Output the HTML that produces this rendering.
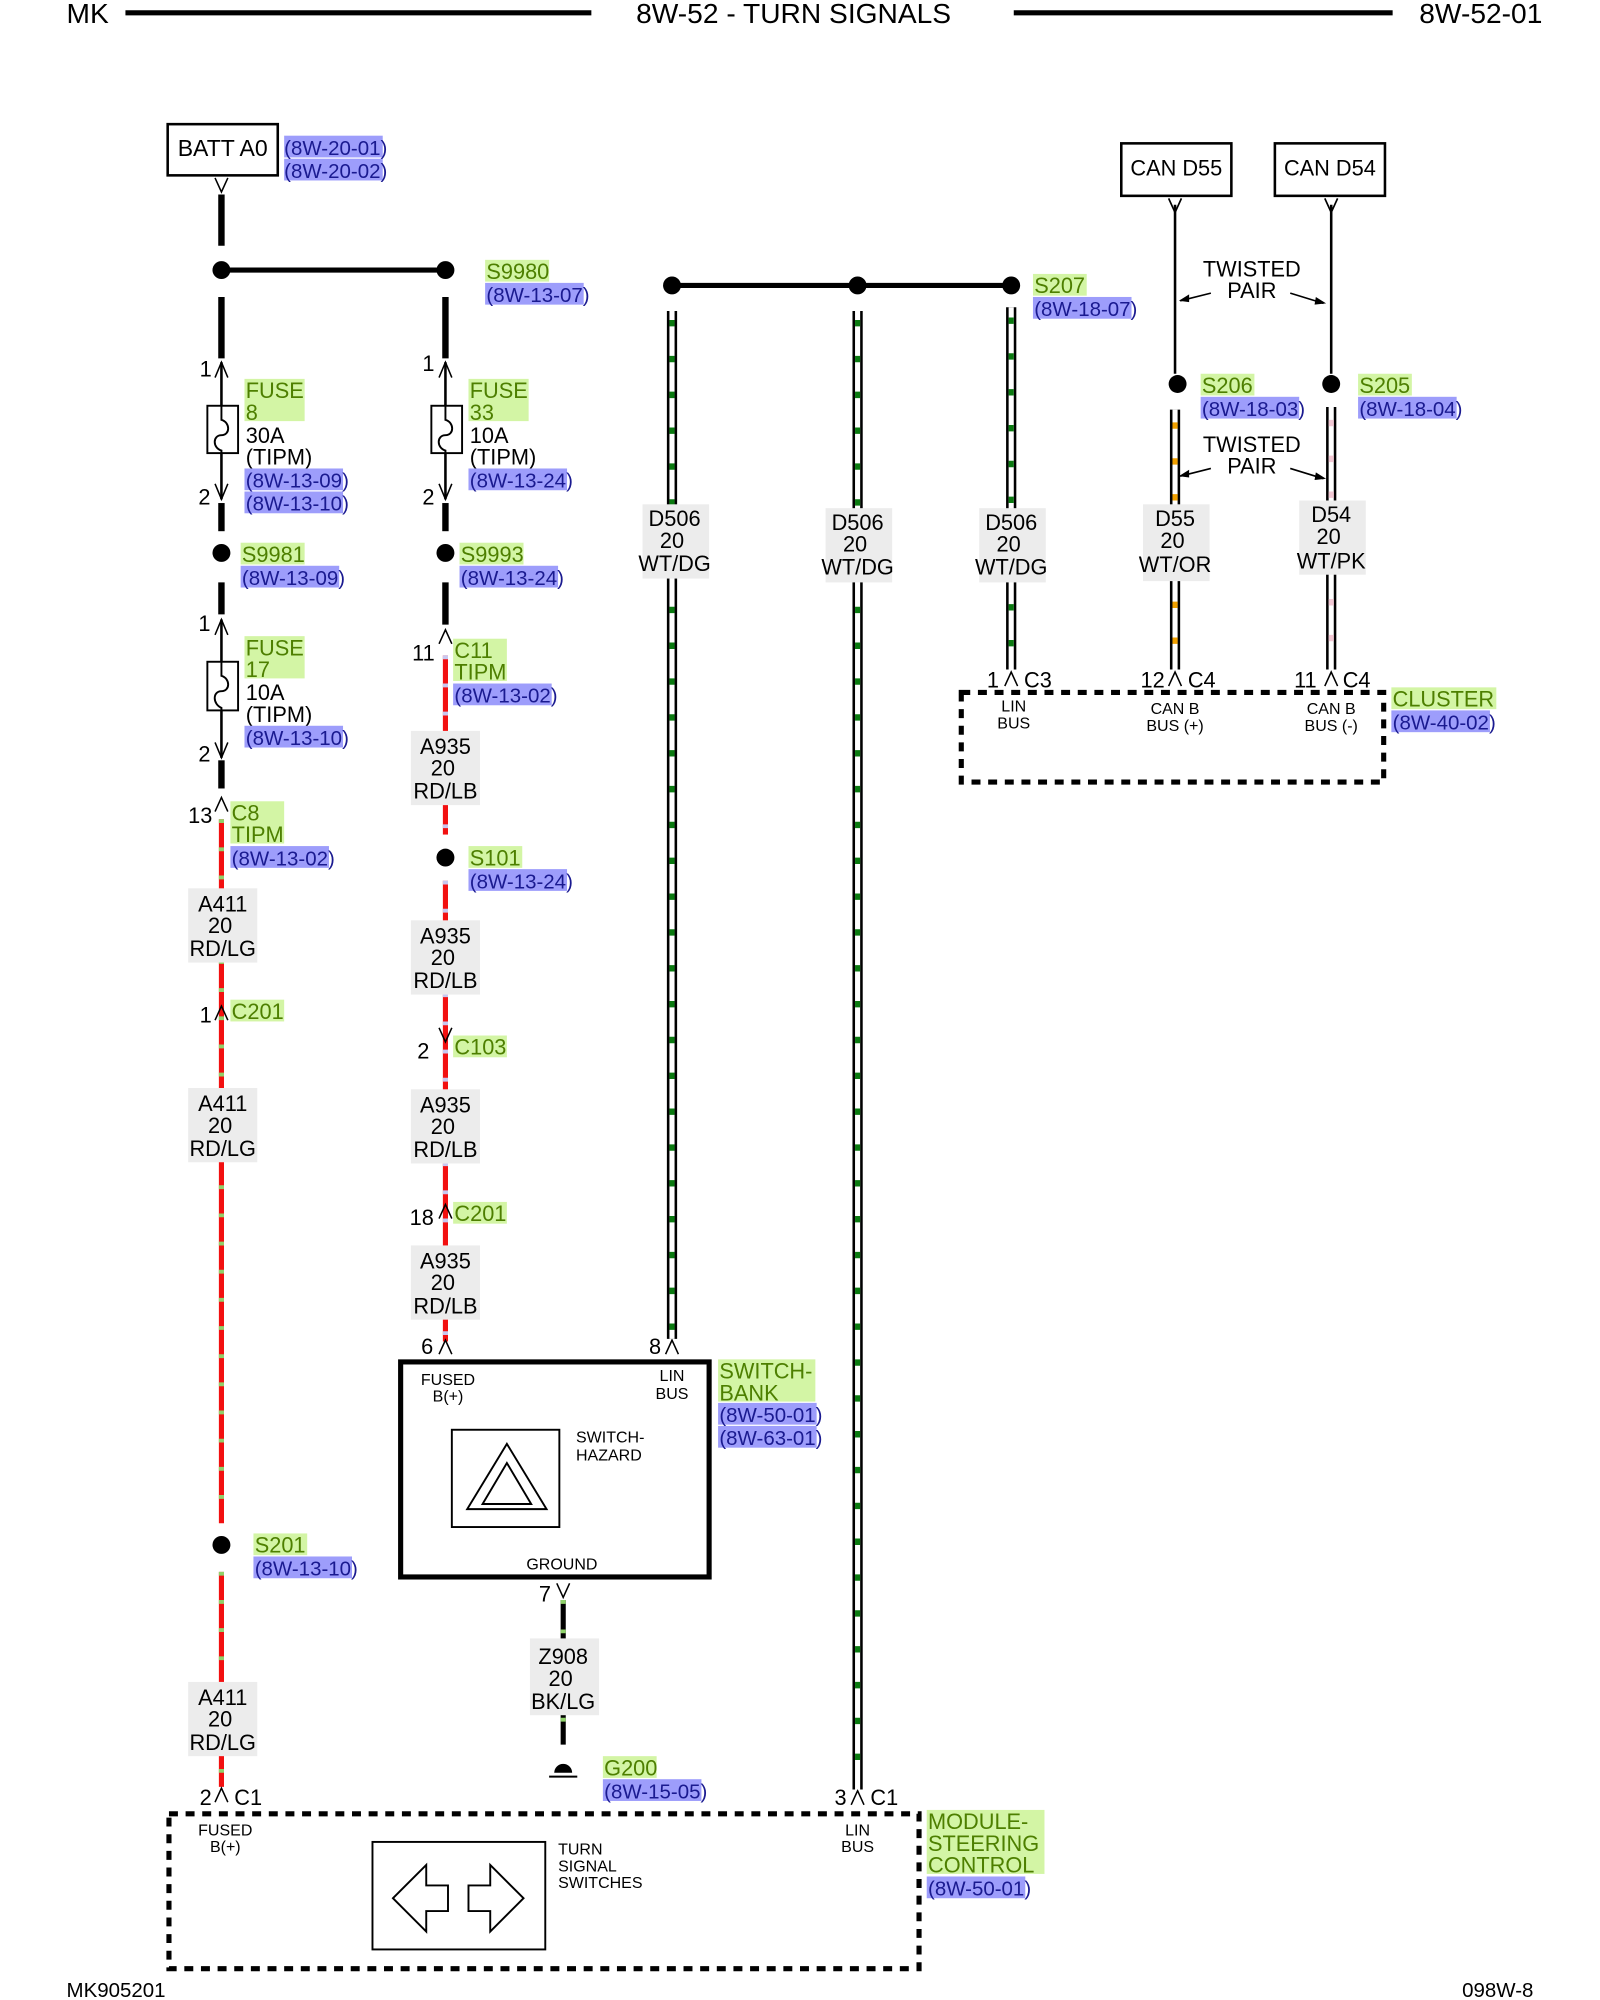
<!DOCTYPE html>
<html><head><meta charset="utf-8"><style>
html,body{margin:0;padding:0;background:#fff}
svg{display:block}
text{font-family:"Liberation Sans",Arial,sans-serif;fill:#000}
.g{fill:#4d7f00}
.b{fill:#1a1a90}
.gb{fill:#d3f5a5}
.bb{fill:#9d9dfb}
.lb{fill:#ececec}
.s{font-size:12.5px}
</style></head><body>
<svg width="1600" height="2000" viewBox="0 0 1250 1562.5" xmlns="http://www.w3.org/2000/svg">
<rect width="1250" height="1562.5" fill="#fff"/>
<!-- header -->
<g font-size="22">
<text x="52" y="18">MK</text>
<text x="620" y="18" text-anchor="middle">8W-52 - TURN SIGNALS</text>
<text x="1205" y="18" text-anchor="end">8W-52-01</text>
</g>
<line x1="98" y1="10" x2="462" y2="10" stroke="#000" stroke-width="4"/>
<line x1="792" y1="10" x2="1088" y2="10" stroke="#000" stroke-width="4"/>
<text x="52" y="1560" font-size="16">MK905201</text>
<text x="1198" y="1560" font-size="16" text-anchor="end">098W-8</text>

<!-- BATT -->
<rect x="131" y="97" width="86" height="40" fill="#fff" stroke="#000" stroke-width="2"/>
<text x="174" y="122" font-size="18" text-anchor="middle">BATT A0</text>
<rect x="222" y="106" width="77" height="17" class="bb"/><rect x="222" y="124" width="77" height="17" class="bb"/>
<text x="222" y="121" font-size="16" class="b">(8W-20-01)</text>
<text x="222" y="139" font-size="16" class="b">(8W-20-02)</text>
<path d="M168 139 L173 150 L178 139" fill="none" stroke="#000" stroke-width="1.2"/>
<line x1="173" y1="152" x2="173" y2="192" stroke="#000" stroke-width="5"/>

<line x1="173" y1="211" x2="348" y2="211" stroke="#000" stroke-width="4"/>
<circle cx="173" cy="211" r="7"/><circle cx="348" cy="211" r="7"/>
<rect x="379" y="203" width="50" height="17" class="gb"/><rect x="379" y="221" width="77" height="17" class="bb"/>
<text x="380" y="218" font-size="17" class="g">S9980</text>
<text x="380" y="236" font-size="16" class="b">(8W-13-07)</text>

<!-- left fuses -->
<g stroke="#000" fill="none">
<line x1="173" y1="232" x2="173" y2="280" stroke-width="5"/>
<line x1="348" y1="232" x2="348" y2="280" stroke-width="5"/>
<line x1="173" y1="283" x2="173" y2="390" stroke-width="2"/>
<line x1="348" y1="283" x2="348" y2="390" stroke-width="2"/>
<path d="M168 295 L173 283 L178 295 M343 295 L348 283 L353 295" stroke-width="1.2"/>
<path d="M168 378 L173 390 L178 378 M343 378 L348 390 L353 378" stroke-width="1.2"/>
<rect x="162" y="317" width="24" height="37" fill="#fff" stroke-width="1.5"/>
<rect x="337" y="317" width="24" height="37" fill="#fff" stroke-width="1.5"/>
<path d="M173 317 V328 C180 330 180 340 173 340 C166 340 166 350 173 352 V354" stroke-width="1.5"/>
<path d="M348 317 V328 C355 330 355 340 348 340 C341 340 341 350 348 352 V354" stroke-width="1.5"/>
<line x1="173" y1="393" x2="173" y2="415" stroke-width="5"/>
<line x1="348" y1="393" x2="348" y2="415" stroke-width="5"/>
<line x1="173" y1="455" x2="173" y2="480" stroke-width="5"/>
<line x1="348" y1="455" x2="348" y2="488" stroke-width="5"/>
<line x1="173" y1="484" x2="173" y2="592" stroke-width="2"/>
<path d="M168 496 L173 484 L178 496 M168 580 L173 592 L178 580" stroke-width="1.2"/>
<rect x="162" y="517" width="24" height="38" fill="#fff" stroke-width="1.5"/>
<path d="M173 517 V528 C180 530 180 540 173 540 C166 540 166 550 173 553 V555" stroke-width="1.5"/>
<line x1="173" y1="594" x2="173" y2="616" stroke-width="5"/>
</g>
<g font-size="17">
<text x="156" y="294">1</text><text x="330" y="290">1</text>
<text x="155" y="394">2</text><text x="330" y="394">2</text>
<text x="155" y="493">1</text><text x="155" y="595">2</text>
</g>
<rect x="191" y="296" width="47" height="33" class="gb"/>
<text x="192" y="311" font-size="17" class="g">FUSE</text><text x="192" y="328" font-size="17" class="g">8</text>
<text x="192" y="346" font-size="17">30A</text><text x="192" y="363" font-size="17">(TIPM)</text>
<rect x="191" y="366" width="77" height="17" class="bb"/><rect x="191" y="384" width="77" height="17" class="bb"/>
<text x="192" y="381" font-size="16" class="b">(8W-13-09)</text><text x="192" y="399" font-size="16" class="b">(8W-13-10)</text>

<rect x="366" y="296" width="47" height="33" class="gb"/>
<text x="367" y="311" font-size="17" class="g">FUSE</text><text x="367" y="328" font-size="17" class="g">33</text>
<text x="367" y="346" font-size="17">10A</text><text x="367" y="363" font-size="17">(TIPM)</text>
<rect x="366" y="366" width="77" height="17" class="bb"/>
<text x="367" y="381" font-size="16" class="b">(8W-13-24)</text>

<circle cx="173" cy="432" r="7"/><circle cx="348" cy="432" r="7"/>
<rect x="188" y="424" width="50" height="17" class="gb"/><rect x="188" y="442" width="77" height="17" class="bb"/>
<text x="189" y="439" font-size="17" class="g">S9981</text><text x="189" y="457" font-size="16" class="b">(8W-13-09)</text>
<rect x="359" y="424" width="50" height="17" class="gb"/><rect x="359" y="442" width="77" height="17" class="bb"/>
<text x="360" y="439" font-size="17" class="g">S9993</text><text x="360" y="457" font-size="16" class="b">(8W-13-24)</text>

<rect x="191" y="497" width="47" height="33" class="gb"/>
<text x="192" y="512" font-size="17" class="g">FUSE</text><text x="192" y="529" font-size="17" class="g">17</text>
<text x="192" y="547" font-size="17">10A</text><text x="192" y="564" font-size="17">(TIPM)</text>
<rect x="191" y="567" width="77" height="17" class="bb"/>
<text x="192" y="582" font-size="16" class="b">(8W-13-10)</text>

<!-- red wires -->
<g stroke-width="4" fill="none">
<line x1="173" y1="640" x2="173" y2="1190" stroke="#f21010"/>
<line x1="173" y1="640" x2="173" y2="1190" stroke="#8fd26a" stroke-dasharray="3 19"/>
<line x1="173" y1="1228" x2="173" y2="1396" stroke="#f21010"/>
<line x1="173" y1="1228" x2="173" y2="1396" stroke="#8fd26a" stroke-dasharray="3 19"/>
<line x1="348" y1="512" x2="348" y2="1048" stroke="#f21010"/>
<line x1="348" y1="512" x2="348" y2="1048" stroke="#c8c8f0" stroke-dasharray="3 19"/>
</g>
<rect x="340" y="652" width="16" height="36" fill="#fff"/>

<!-- connectors small arrows -->
<g stroke="#000" stroke-width="1.2" fill="none">
<path d="M168 634 L173 623 L178 634"/>
<path d="M168 797 L173 786 L178 797"/>
<path d="M168 1408 L173 1397 L178 1408"/>
<path d="M343 503 L348 492 L353 503"/>
<path d="M343 803 L348 814 L353 803"/>
<path d="M343 952 L348 941 L353 952"/>
<path d="M343 1058 L348 1047 L353 1058"/>
<path d="M520 1058 L525 1047 L530 1058"/>
<path d="M435 1237 L440 1248 L445 1237"/>
<path d="M665 1410 L670 1399 L675 1410"/>
<path d="M785 536 L790 525 L795 536"/>
<path d="M913 536 L918 525 L923 536"/>
<path d="M1035 536 L1040 525 L1045 536"/>
</g>
<g font-size="17">
<text x="147" y="643">13</text><text x="156" y="799">1</text><text x="156" y="1410">2</text>
<text x="183" y="1410">C1</text>
<text x="322" y="516">11</text><text x="326" y="827">2</text><text x="320" y="957">18</text><text x="329" y="1058">6</text>
<text x="507" y="1058">8</text><text x="421" y="1251">7</text>
<text x="652" y="1410">3</text><text x="680" y="1410">C1</text>
<text x="771" y="537">1</text><text x="800" y="537">C3</text>
<text x="891" y="537">12</text><text x="928" y="537">C4</text>
<text x="1011" y="537">11</text><text x="1049" y="537">C4</text>
</g>
<rect x="180" y="626" width="42" height="33" class="gb"/>
<text x="181" y="641" font-size="17" class="g">C8</text><text x="181" y="658" font-size="17" class="g">TIPM</text>
<rect x="180" y="661" width="77" height="17" class="bb"/><text x="181" y="676" font-size="16" class="b">(8W-13-02)</text>
<rect x="180" y="781" width="42" height="17" class="gb"/><text x="181" y="796" font-size="17" class="g">C201</text>
<rect x="354" y="499" width="42" height="33" class="gb"/>
<text x="355" y="514" font-size="17" class="g">C11</text><text x="355" y="531" font-size="17" class="g">TIPM</text>
<rect x="354" y="534" width="77" height="17" class="bb"/><text x="355" y="549" font-size="16" class="b">(8W-13-02)</text>
<rect x="354" y="809" width="42" height="17" class="gb"/><text x="355" y="824" font-size="17" class="g">C103</text>
<rect x="354" y="939" width="42" height="17" class="gb"/><text x="355" y="954" font-size="17" class="g">C201</text>

<circle cx="348" cy="670" r="7"/>
<rect x="366" y="661" width="42" height="17" class="gb"/><rect x="366" y="679" width="77" height="17" class="bb"/>
<text x="367" y="676" font-size="17" class="g">S101</text><text x="367" y="694" font-size="16" class="b">(8W-13-24)</text>
<circle cx="173" cy="1207" r="7"/>
<rect x="198" y="1198" width="42" height="17" class="gb"/><rect x="198" y="1216" width="77" height="17" class="bb"/>
<text x="199" y="1213" font-size="17" class="g">S201</text><text x="199" y="1231" font-size="16" class="b">(8W-13-10)</text>

<!-- wire labels -->
<g font-size="17" text-anchor="middle">
<rect x="147" y="694" width="54" height="58" class="lb"/>
<text x="174" y="712">A411</text><text x="172" y="729">20</text><text x="174" y="747">RD/LG</text>
<rect x="147" y="850" width="54" height="58" class="lb"/>
<text x="174" y="868">A411</text><text x="172" y="885">20</text><text x="174" y="903">RD/LG</text>
<rect x="147" y="1314" width="54" height="58" class="lb"/>
<text x="174" y="1332">A411</text><text x="172" y="1349">20</text><text x="174" y="1367">RD/LG</text>
<rect x="321" y="571" width="54" height="58" class="lb"/>
<text x="348" y="589">A935</text><text x="346" y="606">20</text><text x="348" y="624">RD/LB</text>
<rect x="321" y="719" width="54" height="58" class="lb"/>
<text x="348" y="737">A935</text><text x="346" y="754">20</text><text x="348" y="772">RD/LB</text>
<rect x="321" y="851" width="54" height="58" class="lb"/>
<text x="348" y="869">A935</text><text x="346" y="886">20</text><text x="348" y="904">RD/LB</text>
<rect x="321" y="973" width="54" height="58" class="lb"/>
<text x="348" y="991">A935</text><text x="346" y="1008">20</text><text x="348" y="1026">RD/LB</text>
</g>

<!-- D506 bus -->
<line x1="525" y1="223" x2="790" y2="223" stroke="#000" stroke-width="4"/>
<circle cx="525" cy="223" r="7"/><circle cx="670" cy="223" r="7"/><circle cx="790" cy="223" r="7"/>
<rect x="807" y="214" width="42" height="17" class="gb"/><rect x="807" y="232" width="77" height="17" class="bb"/>
<text x="808" y="229" font-size="17" class="g">S207</text><text x="808" y="247" font-size="16" class="b">(8W-18-07)</text>
<g fill="none">
<line x1="525" y1="243" x2="525" y2="1046" stroke="#000" stroke-width="8"/>
<line x1="525" y1="243" x2="525" y2="1046" stroke="#fff" stroke-width="4"/>
<line x1="525" y1="250" x2="525" y2="1046" stroke="#0a7a10" stroke-width="4" stroke-dasharray="5 23"/>
<line x1="670" y1="243" x2="670" y2="1398" stroke="#000" stroke-width="8"/>
<line x1="670" y1="243" x2="670" y2="1398" stroke="#fff" stroke-width="4"/>
<line x1="670" y1="250" x2="670" y2="1398" stroke="#0a7a10" stroke-width="4" stroke-dasharray="5 23"/>
<line x1="790" y1="240" x2="790" y2="523" stroke="#000" stroke-width="8"/>
<line x1="790" y1="240" x2="790" y2="523" stroke="#fff" stroke-width="4"/>
<line x1="790" y1="248" x2="790" y2="523" stroke="#0a7a10" stroke-width="4" stroke-dasharray="5 23"/>
<line x1="918" y1="320" x2="918" y2="523" stroke="#000" stroke-width="8"/>
<line x1="918" y1="320" x2="918" y2="523" stroke="#fff" stroke-width="4"/>
<line x1="918" y1="330" x2="918" y2="523" stroke="#f0a000" stroke-width="4" stroke-dasharray="5 23"/>
<line x1="1040" y1="318" x2="1040" y2="523" stroke="#000" stroke-width="8"/>
<line x1="1040" y1="318" x2="1040" y2="523" stroke="#fff" stroke-width="4"/>
<line x1="1040" y1="328" x2="1040" y2="523" stroke="#f2c8d4" stroke-width="4" stroke-dasharray="5 23"/>
</g>
<g font-size="17" text-anchor="middle">
<rect x="502" y="394" width="52" height="58" class="lb"/>
<text x="527" y="411">D506</text><text x="525" y="428">20</text><text x="527" y="446">WT/DG</text>
<rect x="645" y="397" width="52" height="58" class="lb"/>
<text x="670" y="414">D506</text><text x="668" y="431">20</text><text x="670" y="449">WT/DG</text>
<rect x="765" y="397" width="52" height="58" class="lb"/>
<text x="790" y="414">D506</text><text x="788" y="431">20</text><text x="790" y="449">WT/DG</text>
<rect x="893" y="394" width="52" height="60" class="lb"/>
<text x="918" y="411">D55</text><text x="916" y="428">20</text><text x="918" y="447">WT/OR</text>
<rect x="1015" y="391" width="52" height="58" class="lb"/>
<text x="1040" y="408">D54</text><text x="1038" y="425">20</text><text x="1040" y="444">WT/PK</text>
</g>

<!-- CAN -->
<rect x="876" y="112" width="86" height="41" fill="#fff" stroke="#000" stroke-width="2"/>
<rect x="996" y="112" width="86" height="41" fill="#fff" stroke="#000" stroke-width="2"/>
<text x="919" y="137" font-size="17" text-anchor="middle">CAN D55</text>
<text x="1039" y="137" font-size="17" text-anchor="middle">CAN D54</text>
<g stroke="#000" fill="none" stroke-width="1.3">
<path d="M913 155 L918 166 L923 155 M1035 155 L1040 166 L1045 155"/>
<line x1="918" y1="160" x2="918" y2="292" stroke-width="2"/>
<line x1="1040" y1="160" x2="1040" y2="292" stroke-width="2"/>
<path d="M946 229 L922 235 M1008 229 L1034 237"/>
<path d="M946 366 L922 372 M1008 366 L1034 374"/>
</g>
<path d="M921 235 l8 -5 l0 6z M1036 237 l-8 -5 l-1 6z M921 372 l8 -5 l0 6z M1036 374 l-8 -5 l-1 6z"/>
<g font-size="17" text-anchor="middle">
<text x="978" y="216">TWISTED</text><text x="978" y="233">PAIR</text>
<text x="978" y="353">TWISTED</text><text x="978" y="370">PAIR</text>
</g>
<circle cx="920" cy="300" r="7"/><circle cx="1040" cy="300" r="7"/>
<rect x="938" y="292" width="42" height="17" class="gb"/><rect x="938" y="310" width="77" height="17" class="bb"/>
<text x="939" y="307" font-size="17" class="g">S206</text><text x="939" y="325" font-size="16" class="b">(8W-18-03)</text>
<rect x="1061" y="292" width="42" height="17" class="gb"/><rect x="1061" y="310" width="77" height="17" class="bb"/>
<text x="1062" y="307" font-size="17" class="g">S205</text><text x="1062" y="325" font-size="16" class="b">(8W-18-04)</text>

<!-- cluster -->
<rect x="751" y="541" width="330" height="70" fill="none" stroke="#000" stroke-width="4" stroke-dasharray="7 6"/>
<g class="s" text-anchor="middle">
<text x="792" y="556">LIN</text><text x="792" y="569">BUS</text>
<text x="918" y="558">CAN B</text><text x="918" y="571">BUS (+)</text>
<text x="1040" y="558">CAN B</text><text x="1040" y="571">BUS (-)</text>
</g>
<rect x="1087" y="537" width="82" height="17" class="gb"/><rect x="1087" y="555" width="77" height="17" class="bb"/>
<text x="1088" y="552" font-size="17" class="g">CLUSTER</text><text x="1088" y="570" font-size="16" class="b">(8W-40-02)</text>

<!-- switch bank -->
<rect x="313" y="1064" width="241" height="168" fill="none" stroke="#000" stroke-width="4"/>
<g class="s">
<text x="350" y="1082" text-anchor="middle">FUSED</text><text x="350" y="1095" text-anchor="middle">B(+)</text>
<text x="525" y="1079" text-anchor="middle">LIN</text><text x="525" y="1093" text-anchor="middle">BUS</text>
<text x="450" y="1127">SWITCH-</text><text x="450" y="1141">HAZARD</text>
<text x="439" y="1226" text-anchor="middle">GROUND</text>
</g>
<rect x="353" y="1117" width="84" height="76" fill="none" stroke="#000" stroke-width="1.5"/>
<path d="M396 1128 L427 1179 L365 1179 Z M396 1143 L415 1175 L377 1175 Z" fill="none" stroke="#000" stroke-width="1.5"/>
<rect x="561" y="1062" width="76" height="33" class="gb"/>
<text x="562" y="1077" font-size="17" class="g">SWITCH-</text><text x="562" y="1094" font-size="17" class="g">BANK</text>
<rect x="561" y="1096" width="77" height="17" class="bb"/><rect x="561" y="1114" width="77" height="17" class="bb"/>
<text x="562" y="1111" font-size="16" class="b">(8W-50-01)</text><text x="562" y="1129" font-size="16" class="b">(8W-63-01)</text>

<!-- ground -->
<line x1="440" y1="1250" x2="440" y2="1363" stroke="#000" stroke-width="4"/>
<line x1="440" y1="1250" x2="440" y2="1363" stroke="#8fd26a" stroke-width="4" stroke-dasharray="3 20"/>
<rect x="414" y="1280" width="54" height="60" class="lb"/>
<g font-size="17" text-anchor="middle"><text x="440" y="1300">Z908</text><text x="438" y="1317">20</text><text x="440" y="1335">BK/LG</text></g>
<path d="M433 1385 A7 7 0 1 1 447 1385 Z"/>
<line x1="429" y1="1388" x2="451" y2="1388" stroke="#000" stroke-width="1.5"/>
<rect x="471" y="1372" width="42" height="17" class="gb"/><rect x="471" y="1390" width="77" height="17" class="bb"/>
<text x="472" y="1387" font-size="17" class="g">G200</text><text x="472" y="1405" font-size="16" class="b">(8W-15-05)</text>

<!-- steering module -->
<rect x="132" y="1417" width="586" height="121" fill="none" stroke="#000" stroke-width="4" stroke-dasharray="7 6"/>
<g class="s">
<text x="176" y="1434" text-anchor="middle">FUSED</text><text x="176" y="1447" text-anchor="middle">B(+)</text>
<text x="670" y="1434" text-anchor="middle">LIN</text><text x="670" y="1447" text-anchor="middle">BUS</text>
<text x="436" y="1449">TURN</text><text x="436" y="1462">SIGNAL</text><text x="436" y="1475">SWITCHES</text>
</g>
<rect x="291" y="1439" width="135" height="84" fill="none" stroke="#000" stroke-width="1.5"/>
<path d="M307 1483 L333 1457 V1473 H350 V1493 H333 V1509 Z" fill="none" stroke="#000" stroke-width="1.5"/>
<path d="M409 1483 L383 1457 V1473 H366 V1493 H383 V1509 Z" fill="none" stroke="#000" stroke-width="1.5"/>
<rect x="724" y="1414" width="92" height="50" class="gb"/>
<text x="725" y="1429" font-size="17" class="g">MODULE-</text><text x="725" y="1446" font-size="17" class="g">STEERING</text><text x="725" y="1463" font-size="17" class="g">CONTROL</text>
<rect x="724" y="1466" width="77" height="17" class="bb"/>
<text x="725" y="1481" font-size="16" class="b">(8W-50-01)</text>
</svg>
</body></html>
